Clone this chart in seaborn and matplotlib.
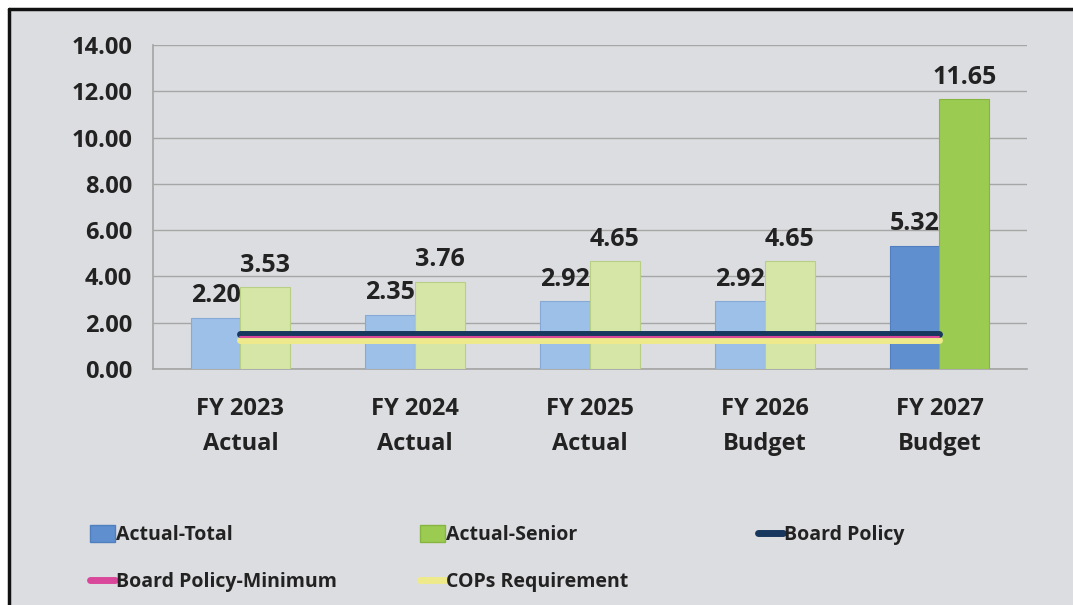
import matplotlib.pyplot as plt
import matplotlib.patches as mpatches
from matplotlib.lines import Line2D
import numpy as np
import pandas as pd
import seaborn as sns

categories = ['FY 2023\nActual', 'FY 2024\nActual', 'FY 2025\nActual',
              'FY 2026\nBudget', 'FY 2027\nBudget']
actual_total = [2.20, 2.35, 2.92, 2.92, 5.32]
actual_senior = [3.53, 3.76, 4.65, 4.65, 11.65]
board_policy = [1.50, 1.50, 1.50, 1.50, 1.50]
board_policy_min = [1.37, 1.37, 1.37, 1.37, 1.37]
cops_requirement = [1.25, 1.25, 1.25, 1.25, 1.25]

bg = '#dcdde0'
blue_light, blue_dark = '#9dc0e8', '#5f8fcf'
green_light, green_dark = '#d5e6a6', '#9ccb52'
navy, pink, yellow = '#17375e', '#d9479a', '#eeea8c'
txt = '#222222'

sns.set_theme(style='white')
plt.rcParams['font.family'] = ['Open Sans', 'DejaVu Sans']

df = pd.DataFrame({
    'cat': categories * 2,
    'val': actual_total + actual_senior,
    'series': ['Actual-Total'] * 5 + ['Actual-Senior'] * 5,
})

fig = plt.figure(figsize=(10.73, 6.05), dpi=100)
fig.patch.set_facecolor(bg)
ax = fig.add_axes([0.1426, 0.39, 0.8144, 0.5356])
ax.set_facecolor(bg)

sns.barplot(data=df, x='cat', y='val', hue='series', ax=ax,
            palette=[blue_light, green_light], width=0.57, legend=False,
            saturation=1, zorder=3)

# darker colouring for the final budget year
n = len(categories)
for i, p in enumerate(ax.patches[:2 * n]):
    is_blue = i < n
    last = (i % n) == n - 1
    if is_blue:
        p.set_facecolor(blue_dark if last else blue_light)
        p.set_edgecolor('#4f7fbf' if last else '#86a9d6')
    else:
        p.set_facecolor(green_dark if last else green_light)
        p.set_edgecolor('#86b540' if last else '#b9cf86')
    p.set_linewidth(0.8)

for cont in ax.containers:
    labels = [f'{v:.2f}' for v in cont.datavalues]
    ax.bar_label(cont, labels=labels, padding=7, fontsize=18,
                 fontweight='bold', color=txt, zorder=5)

x = np.arange(n)
ax.plot(x, cops_requirement, color=yellow, lw=5, zorder=4,
        solid_capstyle='round')
ax.plot(x, board_policy, color=navy, lw=5, zorder=4,
        solid_capstyle='round')
ax.plot(x, board_policy_min, color=pink, lw=1.5, zorder=4.5,
        solid_capstyle='round')

ax.set_ylim(0, 14)
ax.set_xlim(-0.5, n - 0.5)
yt = np.arange(0, 14.1, 2)
ax.set_yticks(yt)
ax.set_yticklabels([f'{v:.2f}' for v in yt])
ax.yaxis.grid(True, color='#a6a6a6', lw=1, zorder=0)
ax.set_xlabel('')
ax.set_ylabel('')
ax.tick_params(axis='y', labelsize=17, length=7, color='#a6a6a6', width=1, pad=8)
ax.tick_params(axis='x', labelsize=17, length=0, pad=20)
for lab in ax.get_xticklabels() + ax.get_yticklabels():
    lab.set_fontweight('bold')
    lab.set_color(txt)
for lab in ax.get_xticklabels():
    lab.set_linespacing(1.6)
ax.set_xticks(np.arange(-0.5, n, 1), minor=True)
ax.tick_params(axis='x', which='minor', length=10, color='#a6a6a6', width=1)
for s in ['top', 'right']:
    ax.spines[s].set_visible(False)
ax.spines['left'].set_color('#a6a6a6')
ax.spines['bottom'].set_color('#a6a6a6')

# legend, laid out as three columns like the original
h_total = mpatches.Patch(facecolor=blue_dark, edgecolor='#4f7fbf', label='Actual-Total')
h_senior = mpatches.Patch(facecolor=green_dark, edgecolor='#86b540', label='Actual-Senior')
h_board = Line2D([], [], color=navy, lw=5, label='Board Policy', solid_capstyle='round')
h_min = Line2D([], [], color=pink, lw=5, label='Board Policy-Minimum', solid_capstyle='round')
h_cops = Line2D([], [], color=yellow, lw=5, label='COPs Requirement', solid_capstyle='round')

columns = [([h_total, h_min], 0.084), ([h_senior, h_cops], 0.391), ([h_board], 0.706)]
for hs, xpos in columns:
    leg = fig.legend(handles=hs, loc='upper left', bbox_to_anchor=(xpos, 0.132),
                     frameon=False, fontsize=14, handlelength=1.3,
                     handleheight=0.9, handletextpad=0.05, labelspacing=1.4,
                     borderpad=0, borderaxespad=0)
    for t in leg.get_texts():
        t.set_fontweight('bold')
        t.set_color(txt)

# outer frame (left and top edges)
fig.add_artist(Line2D([0.0085, 0.0085], [0, 0.985], color='#111111', lw=2.5,
                      transform=fig.transFigure))
fig.add_artist(Line2D([0.0085, 1], [0.985, 0.985], color='#111111', lw=2.5,
                      transform=fig.transFigure))
fig.add_artist(mpatches.Rectangle((0, 0.986), 1, 0.014, color='white',
                                  transform=fig.transFigure))
fig.add_artist(mpatches.Rectangle((0, 0), 0.0075, 1, color='white',
                                  transform=fig.transFigure))

fig.savefig('out.png', dpi=100, facecolor=bg)
